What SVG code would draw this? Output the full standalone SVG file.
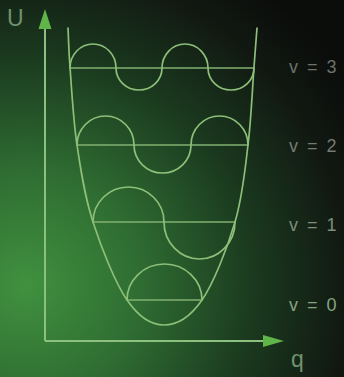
<svg xmlns="http://www.w3.org/2000/svg" width="344" height="377" viewBox="0 0 344 377">
<defs>
<radialGradient id="bg" cx="25" cy="285" r="380" gradientUnits="userSpaceOnUse">
<stop offset="0" stop-color="#40913f"/>
<stop offset="0.3" stop-color="#2f6d32"/>
<stop offset="0.6" stop-color="#1b3a1f"/>
<stop offset="0.85" stop-color="#111811"/>
<stop offset="1" stop-color="#0b0d0b"/>
</radialGradient>
<style>
.ln{fill:none;stroke:#8cbf78;stroke-width:1.7;stroke-linecap:round}
.lvl{fill:none;stroke:#82b070;stroke-width:1.3}
.ax{fill:none;stroke:#8cc07e;stroke-width:2}
.ah{fill:#5fb548}
.lab{font-family:"Liberation Sans",Arial,sans-serif;font-size:18px;letter-spacing:2px}
.axl{font-family:"Liberation Sans",Arial,sans-serif;font-size:23px;fill:#6f9270}
</style>
</defs>
<rect width="344" height="377" fill="url(#bg)"/>
<g id="connectors">
<g id="axis-u"><line class="ax" x1="45" y1="341" x2="45" y2="27"/><polygon class="ah" points="45,9 38.5,29 51.5,29"/></g>
<g id="axis-q"><line class="ax" x1="45" y1="341" x2="265" y2="341"/><polygon class="ah" points="284,341 263,335 263,347"/></g>
</g>
<g id="potential">
<path class="ln" d="M68,28 C68.67,41 68.5,47.5 70,67 C71.5,86.5 73.17,119.17 77,145 C80.83,170.83 84.67,196.17 93,222 C101.33,247.83 115.17,282.83 127,300 C138.83,317.17 151.5,325 164,325 C176.5,325 190.17,317.17 202,300 C213.83,282.83 227.33,247.83 235,222 C242.67,196.17 244.83,170.83 248,145 C251.17,119.17 252.5,86.5 254,67 C255.5,47.5 256,41 257,28"/>
</g>
<g id="level3">
<line class="lvl" x1="70" y1="68" x2="254" y2="68"/>
<path class="ln" d="M70,68 A23,24 0 0 1 116,68 A23,22 0 0 0 162,68 A23,24 0 0 1 208,68 A23,22 0 0 0 254,68"/>
<text class="lab" x="289" y="73" fill="#6c726c">v = 3</text>
</g>
<g id="level2">
<line class="lvl" x1="77" y1="145" x2="248" y2="145"/>
<path class="ln" d="M77,145 A28.5,29 0 0 1 134,145 A28.5,28 0 0 0 191,145 A28.5,29 0 0 1 248,145"/>
<text class="lab" x="289" y="152" fill="#737b73">v = 2</text>
</g>
<g id="level1">
<line class="lvl" x1="93" y1="222" x2="235" y2="222"/>
<path class="ln" d="M93,222 A35.5,35 0 0 1 164,222 A35.5,37 0 0 0 235,222"/>
<text class="lab" x="289" y="231" fill="#7d8e7b">v = 1</text>
</g>
<g id="level0">
<line class="lvl" x1="127" y1="300" x2="202" y2="300"/>
<path class="ln" d="M127,300 A37.5,36 0 0 1 202,300"/>
<text class="lab" x="289" y="311" fill="#86a384">v = 0</text>
</g>
<g id="labels">
<text class="axl" x="7" y="26">U</text>
<text class="axl" x="291" y="367">q</text>
</g>
</svg>
